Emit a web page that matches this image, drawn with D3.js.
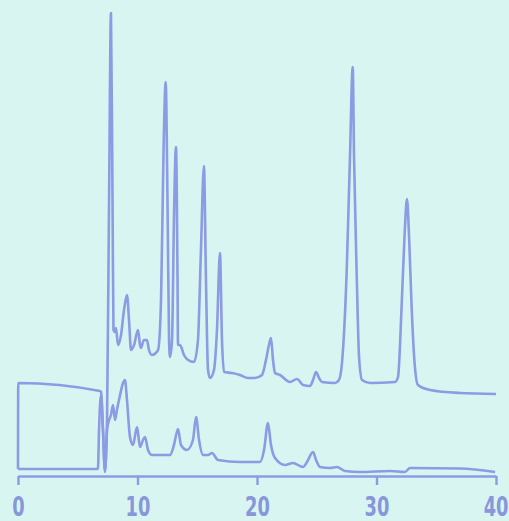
<!DOCTYPE html>
<html>
<head>
<meta charset="utf-8">
<script src="https://cdn.jsdelivr.net/npm/d3@7"></script>
<style>
  html, body { margin: 0; padding: 0; background: #d9f5f1; }
  svg { display: block; }
  .tick text { font-family: "DejaVu Sans", sans-serif; font-weight: bold; }
</style>
</head>
<body>
<svg id="chrom" width="509" height="521"></svg>
<script>
// retention time (min) and detector response for the upper trace
const timesA = [0, 0.02, 6.86, 6.95, 7.11, 7.28, 7.45, 7.62, 7.78, 7.91, 7.99, 8.12, 8.20, 8.37, 8.62, 8.87, 9.12, 9.29, 9.46, 9.71,
  10.04, 10.21, 10.29, 10.54, 10.79, 10.96, 11.21, 11.72, 11.97, 12.18, 12.36, 12.51, 12.64, 12.72, 12.89, 13.05, 13.22, 13.35, 13.39, 13.56,
  13.89, 14.23, 14.73, 15.06, 15.31, 15.56, 15.73, 15.90, 16.07, 16.40, 16.65, 16.90, 17.07, 17.24, 17.91, 18.58, 19.25, 19.83, 20.42, 20.75,
  21.00, 21.17, 21.34, 21.51, 21.92, 22.76, 23.35, 23.85, 24.44, 24.69, 24.94, 25.19, 25.44, 26.53, 26.86, 27.11, 27.50, 27.78, 28.01, 28.12,
  28.34, 28.54, 28.79, 29.46, 31.55, 31.80, 32.10, 32.35, 32.55, 32.72, 32.94, 33.20, 33.47, 34.48, 36.99, 40.00];
const valuesA = [6, 92, 84, 83, 45, 5, 55, 275, 462, 275, 145, 143, 147, 130, 140, 165, 180, 155, 125, 130,
  145, 130, 127, 135, 135, 125, 120, 125, 175, 325, 393, 275, 135, 118, 135, 255, 328, 195, 130, 130,
  120, 115, 113, 135, 225, 309, 195, 105, 97, 105, 145, 222, 135, 103, 102, 100, 97, 97, 100, 115,
  130, 137, 115, 102, 100, 93, 96, 90, 89, 95, 103, 97, 93, 92, 95, 112, 202, 318, 408, 318,
  202, 118, 95, 92, 93, 98, 168, 240, 276, 240, 168, 110, 90, 85, 82, 81];

// lower trace
const timesB = [0, 6.69, 6.78, 6.95, 7.11, 7.28, 7.45, 7.62, 7.78, 7.95, 8.12, 8.28, 8.54, 8.79, 8.95, 9.12, 9.37, 9.62, 9.96, 10.21,
  10.46, 10.63, 10.88, 11.21, 12.72, 13.05, 13.39, 13.64, 14.14, 14.64, 14.90, 15.15, 15.48, 15.90, 16.23, 16.74, 18.58, 20.25, 20.59, 20.92,
  21.17, 21.51, 22.34, 23.01, 23.85, 24.18, 24.69, 24.94, 25.27, 26.11, 26.69, 27.36, 28.62, 31.13, 32.38, 32.80, 36.99, 39.92];
const valuesB = [6, 6, 45, 80, 45, 3, 45, 55, 60, 70, 55, 65, 80, 92, 95, 75, 38, 30, 48, 28,
  35, 38, 25, 20, 20, 30, 46, 30, 25, 35, 58, 35, 20, 20, 22, 15, 13, 13, 25, 52,
  30, 17, 10, 12, 8, 13, 23, 15, 8, 7, 8, 4, 3, 4, 3, 7, 6.5, 3];

const tickValues = [0, 10, 20, 30, 40];

const ink = "#8c9be4";
const svg = d3.select("#chrom");

const x = d3.scaleLinear().domain([0, 40]).range([18, 496]);
const y = d3.scaleLinear().domain([0, 460]).range([475, 15]);

const line = d3.line()
    .curve(d3.curveMonotoneX)
    .x(d => x(d[0]))
    .y(d => y(d[1]));

const traceA = timesA.map((t, i) => [t, valuesA[i]]);
const traceB = timesB.map((t, i) => [t, valuesB[i]]);

[traceB, traceA].forEach(tr => {
    svg.append("path")
        .datum(tr)
        .attr("d", line)
        .attr("fill", "none")
        .attr("stroke", ink)
        .attr("stroke-width", 2.6)
        .attr("stroke-linejoin", "round");
});

const xAxis = d3.axisBottom(x)
    .tickValues(tickValues)
    .tickSize(9)
    .tickSizeOuter(0)
    .tickPadding(12)
    .tickFormat(d3.format("d"));

const ax = svg.append("g")
    .attr("transform", "translate(0,476)")
    .call(xAxis);

ax.select(".domain").attr("stroke", ink).attr("stroke-width", 2.6);
ax.selectAll(".tick line").attr("stroke", ink).attr("stroke-width", 2.4);
ax.selectAll(".tick text")
    .attr("fill", "#8797da")
    .attr("font-size", 27)
    .attr("transform", "scale(0.66,1)");
// the last label sits right on the page edge, keep it inside
ax.selectAll(".tick text").filter(d => d === 40)
    .attr("text-anchor", "end")
    .attr("x", 12 / 0.66);
</script>
</body>
</html>
